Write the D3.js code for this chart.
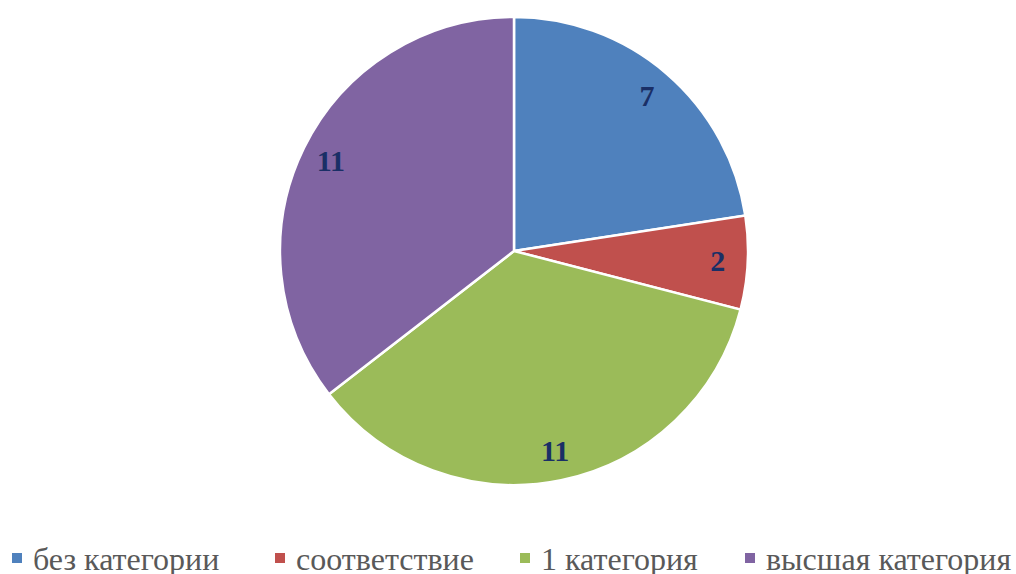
<!DOCTYPE html>
<html lang="ru">
<head>
<meta charset="utf-8">
<script src="https://cdn.jsdelivr.net/npm/d3@7"></script>
<style>
  body { margin: 0; background: #fff; font-family: "Liberation Serif", serif; }
  svg { display: block; }
  svg text { font-family: "Liberation Serif", serif; }
</style>
</head>
<body>
<div id="chart"></div>
<script>
var categories = ["без категории", "соответствие", "1 категория", "высшая категория"];
var values = [7, 2, 11, 11];
var colors = ["#4F81BD", "#C0504D", "#9BBB59", "#8064A2"];

var width = 1016, height = 574;
var cx = 514, cy = 251, radius = 234;

var svg = d3.select("#chart").append("svg")
    .attr("width", width)
    .attr("height", height);

var pie = d3.pie().sort(null).value(function(d) { return d; });
var arcs = pie(values);

var arc = d3.arc().innerRadius(0).outerRadius(radius);
var labelArc = d3.arc().innerRadius(204).outerRadius(204);

svg.selectAll("path")
  .data(arcs)
  .enter()
  .append("path")
  .attr("transform", "translate(" + cx + "," + cy + ")")
  .attr("d", arc)
  .style("fill", function(d, i) { return colors[i]; })
  .style("stroke", "#fff")
  .style("stroke-width", 2.5);

// value labels
svg.selectAll(".lbl")
  .data(arcs)
  .enter()
  .append("text")
  .attr("class", "lbl")
  .attr("x", function(d) { return cx + labelArc.centroid(d)[0]; })
  .attr("y", function(d) { return cy + labelArc.centroid(d)[1] + 10; })
  .attr("text-anchor", "middle")
  .style("font-weight", "bold")
  .style("font-size", "30px")
  .style("fill", "#1A2F66")
  .text(function(d) { return d.value; });

// legend
var legendX = [12, 275, 520, 745];

svg.selectAll(".key")
  .data(categories)
  .enter()
  .append("rect")
  .attr("class", "key")
  .attr("x", function(d, i) { return legendX[i]; })
  .attr("y", 553)
  .attr("width", 10)
  .attr("height", 10)
  .style("fill", function(d, i) { return colors[i]; });

svg.selectAll(".keytext")
  .data(categories)
  .enter()
  .append("text")
  .attr("class", "keytext")
  .attr("x", function(d, i) { return legendX[i] + 21; })
  .attr("y", 570)
  .style("font-size", "32px")
  .style("fill", "#595959")
  .text(function(d) { return d; });
</script>
</body>
</html>
